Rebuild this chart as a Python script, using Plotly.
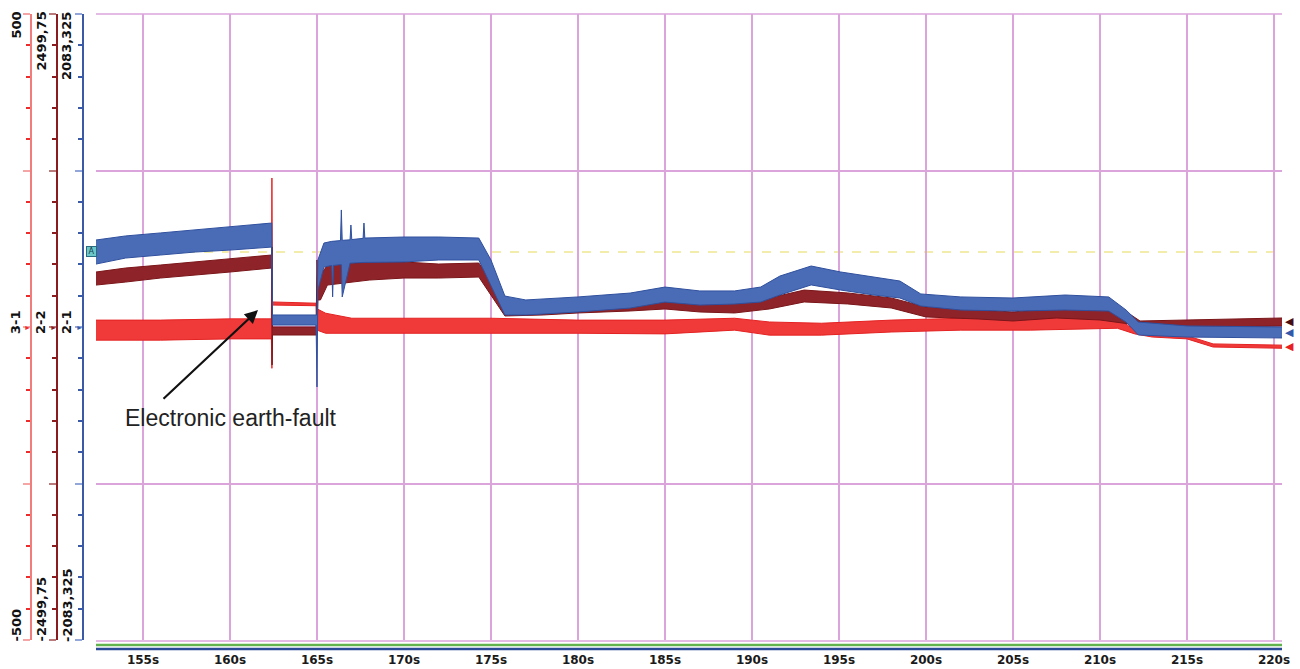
import plotly.graph_objects as go

# ---------------- data ----------------
tick_times = [155, 160, 165, 170, 175, 180, 185, 190, 195, 200, 205, 210, 215, 220]
tick_labels = [f"{t}s" for t in tick_times]

# channel 3-1 (red), units: +-500
r_t = [152.3, 156, 160, 162.38, 162.41, 162.44, 164.95, 165.0, 165.5, 167, 170, 175, 180, 185,
       189, 191, 194, 198, 202, 206, 211, 212.0, 213, 215, 216.5, 220.5]
r_up = [11, 11, 13, 13, 238, 40, 38, 29, 22, 14, 14, 14, 11, 11, 14, 8, 6, 11, 14, 14, 14,
        -5, -10, -14, -27, -29]
r_lo = [-21, -21, -19, -19, -66, 35, 34, -5, -10, -11, -11, -10, -10, -11, -5, -13, -13, -8,
        -5, -5, -2, -11, -16, -19, -32, -34]

# channel 2-2 (dark red), units: +-2499,75
d_t = [152.3, 154, 156, 158, 160, 162.4, 162.42, 162.44, 164.95, 165.0, 165.05, 165.2, 165.6,
       168, 170, 172, 174.3, 175, 175.8, 178, 180, 183, 185, 187, 189, 191, 193, 195.5, 198,
       200, 203, 205, 207.5, 210, 211.7, 212.3, 215, 220.5]
d_up = [439, 471, 495, 519, 543, 575, 639, 0, 0, 535, 380, 415, 495, 519, 519, 503, 511, 375,
        176, 176, 192, 216, 232, 200, 192, 232, 295, 272, 232, 160, 136, 120, 152, 136, 104,
        48, 56, 72]
d_lo = [335, 359, 391, 415, 439, 471, -303, -64, -64, -64, 216, 216, 335, 375, 391, 391, 399,
        256, 88, 96, 112, 128, 144, 120, 112, 144, 200, 184, 152, 80, 64, 48, 72, 56, 24, -8,
        0, 8]

# channel 2-1 (blue), units: +-2083,325
b_t = [152.3, 154.0, 156.0, 158.0, 160.0, 162.4, 162.44, 164.95, 165.0, 165.05, 165.4, 165.85,
       165.9, 165.95, 166.35, 166.4, 166.45, 166.9, 166.95, 167.0, 167.65, 167.7, 167.75, 170.0,
       172.0, 174.3, 175.0, 175.8, 177.0, 180.0, 183.0, 185.0, 187.0, 189.0, 190.5, 191.6,
       193.4, 195.1, 197.0, 198.5, 199.7, 202.0, 205.0, 208.0, 210.5, 211.5, 212.2, 215.0, 220.5]
b_up = [579, 606, 626, 646, 666, 692, 80, 80, 80, 446, 559, 570, 570, 570, 575, 779, 577, 580,
        679, 582, 590, 692, 592, 599, 599, 592, 446, 206, 180, 200, 226, 266, 240, 240, 266,
        339, 406, 366, 333, 306, 220, 200, 193, 213, 200, 113, 33, 7, 0]
b_lo = [419, 459, 479, 499, 512, 532, 13, 13, -399, 246, 399, 410, 200, 410, 415, 415, 200,
        425, 425, 425, 430, 430, 430, 433, 446, 446, 280, 80, 80, 100, 126, 166, 146, 153, 166,
        213, 280, 246, 213, 193, 140, 113, 106, 113, 106, 33, -53, -67, -73]

ranges = {"3-1": 500, "2-2": 2499.75, "2-1": 2083.325}
range_labels = {"3-1": ("500", "-500"), "2-2": ("2499,75", "-2499,75"),
                "2-1": ("2083,325", "-2083,325")}
cursor_level = 120          # cursor "A" level (channel 3-1 units)
x_range = [152.3, 220.46]

# ---------------- layout helpers ----------------
W, H = 1300, 669
ML, MR, MT, MB = 0, 18, 14, 29
PW = W - ML - MR
PH = H - MT - MB
def px(x):  # pixel -> paper x
    return (x - ML) / PW
def py(y):  # pixel -> paper y
    return (H - MB - y) / PH

RED, RED_L = "#ee2b2b", "#f07c7c"
DRED, DRED_L = "#8a1c20", "#b87a7a"
BLUE, BLUE_L = "#3a5aa8", "#93a6da"
GRID = "#dba4db"
FONT_B = "DejaVu Sans"

fig = go.Figure()

def band(t, up, lo, fill, line, yax):
    fig.add_trace(go.Scatter(
        x=list(t) + list(t)[::-1], y=list(up) + list(lo)[::-1],
        fill="toself", fillcolor=fill, mode="lines",
        line=dict(color=line, width=1), yaxis=yax,
        hoverinfo="skip", showlegend=False))

band(r_t, r_up, r_lo, "#f03a3a", "#e42222", "y2")
band(d_t, d_up, d_lo, "#8e2429", "#7a1519", "y3")
band(b_t, b_up, b_lo, "#4a6cb6", "#30509e", "y4")

def ch_axis(rng, pos, line_c, major_c, minor_c):
    return dict(overlaying="y", anchor="free", position=pos, range=[-rng, rng],
                showline=True, linecolor=line_c, linewidth=2,
                tickmode="linear", tick0=0, dtick=rng / 2, ticks="outside",
                ticklen=7, tickwidth=2, tickcolor=major_c,
                minor=dict(dtick=rng / 10, tick0=0, ticks="outside", ticklen=4,
                           tickwidth=1.5, tickcolor=minor_c, showgrid=False),
                showgrid=False, zeroline=False, showticklabels=False, fixedrange=True)

fig.update_layout(
    width=W, height=H, margin=dict(l=ML, r=MR, t=MT, b=MB),
    paper_bgcolor="white", plot_bgcolor="white",
    xaxis=dict(domain=[px(96), 1], range=x_range, tickmode="array",
               tickvals=tick_times, ticktext=[f"<b>{s}</b>" for s in tick_labels],
               tickfont=dict(family=FONT_B, size=12, color="#1a1a1a"),
               ticks="outside", ticklen=9, tickcolor="rgba(0,0,0,0)",
               showgrid=True, gridcolor=GRID, gridwidth=1.5,
               zeroline=False, showline=False),
    yaxis=dict(range=[-500, 500], tickmode="linear", tick0=0, dtick=250,
               showgrid=True, gridcolor=GRID, gridwidth=1.5, zeroline=False,
               showticklabels=False, ticks="", showline=False),
    yaxis2=ch_axis(ranges["3-1"], px(31), RED_L, "#f4a6a6", RED),
    yaxis3=ch_axis(ranges["2-2"], px(57), DRED, DRED_L, DRED),
    yaxis4=ch_axis(ranges["2-1"], px(83), BLUE, BLUE_L, BLUE),
)

ann = []
lab_font = dict(family=FONT_B, size=13, color="#111111")
for name, xc in [("3-1", 16), ("2-2", 41), ("2-1", 67)]:
    top, bot = range_labels[name]
    ann.append(dict(text=f"<b>{top}</b>", xref="paper", yref="paper", x=px(xc), y=py(10),
                    xanchor="center", yanchor="top", textangle=-90, showarrow=False,
                    font=lab_font))
    ann.append(dict(text=f"<b>{bot}</b>", xref="paper", yref="paper", x=px(xc), y=py(644),
                    xanchor="center", yanchor="bottom", textangle=-90, showarrow=False,
                    font=lab_font))
    ann.append(dict(text=f"<b>{name}</b>", xref="paper", yref="paper", x=px(xc), y=py(322),
                    xanchor="center", yanchor="middle", textangle=-90, showarrow=False,
                    font=lab_font))
for xa, c in [(27, RED), (53, DRED), (79, BLUE)]:
    ann.append(dict(text="►", xref="paper", yref="y", x=px(xa), y=0, xanchor="center",
                    yanchor="middle", showarrow=False, font=dict(size=7, color=c)))

# end-level markers on the right edge (level = last value of each channel)
for up, lo, yax, c in [(d_up, d_lo, "y3", "#4a0c0e"),
                       (b_up, b_lo, "y4", "#3458aa"),
                       (r_up, r_lo, "y2", "#e82020")]:
    ann.append(dict(text="◀", xref="paper", yref=yax, x=px(1289), y=(up[-1] + lo[-1]) / 2,
                    xanchor="center", yanchor="middle", showarrow=False, height=9,
                    borderpad=0, font=dict(family="DejaVu Sans", size=11, color=c)))

# cursor A
ann.append(dict(text="A", xref="paper", yref="y", x=px(91), y=cursor_level,
                xanchor="center", yanchor="middle", showarrow=False,
                font=dict(family="DejaVu Sans", size=8, color="#1a3a4a"),
                bgcolor="#6cc8c8", bordercolor="#2a6a80", borderwidth=1, borderpad=0,
                width=9, height=9))

# earth-fault annotation
ann.append(dict(text="", x=161.61, y=27, xref="x", yref="y", showarrow=True,
                ax=-96, ay=90, arrowhead=2, arrowsize=1.2, arrowwidth=2.2,
                arrowcolor="#111111"))
ann.append(dict(text="Electronic earth-fault", x=153.85, y=-145, xref="x", yref="y",
                xanchor="left", yanchor="middle", showarrow=False,
                font=dict(family="Liberation Sans", size=23, color="#222222")))
fig.update_layout(annotations=ann)

shapes = [
    dict(type="line", xref="paper", yref="y", x0=px(96), x1=1, y0=cursor_level,
         y1=cursor_level, line=dict(color="#efe890", width=1.5, dash="dash"), layer="below"),
    dict(type="line", xref="paper", yref="paper", x0=px(96), x1=1, y0=1, y1=1,
         line=dict(color=GRID, width=1.5), layer="below"),
    dict(type="line", xref="paper", yref="paper", x0=px(96), x1=1, y0=py(641), y1=py(641),
         line=dict(color=GRID, width=1.5), layer="below"),
    dict(type="line", xref="paper", yref="paper", x0=px(96), x1=1, y0=py(645), y1=py(645),
         line=dict(color="#62b24e", width=2.5)),
    dict(type="line", xref="paper", yref="paper", x0=px(96), x1=1, y0=py(649), y1=py(649),
         line=dict(color="#2a4a98", width=2.5)),
]
fig.update_layout(shapes=shapes)

fig.write_html("out.html", config={"displayModeBar": False},
               post_script="document.body.style.margin='0px';"
                           "document.body.style.overflow='hidden';")
